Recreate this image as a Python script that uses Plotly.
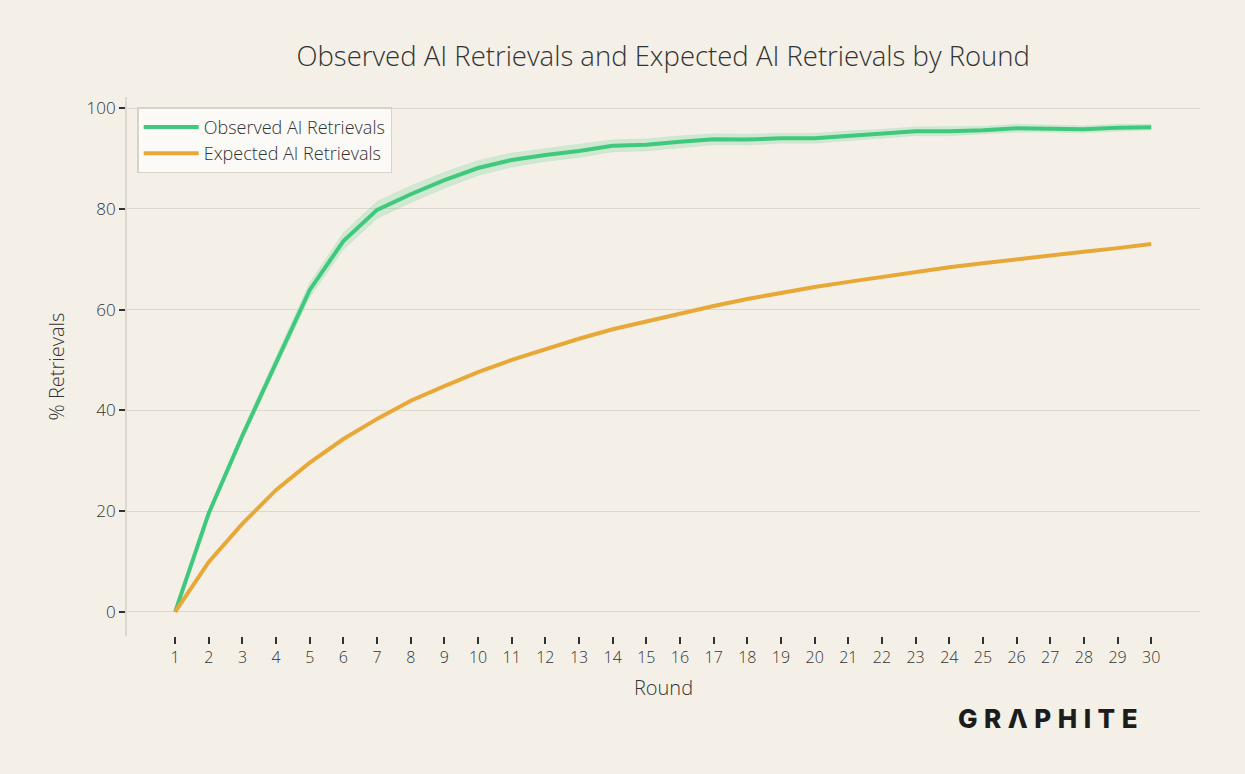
import plotly.graph_objects as go

rounds = list(range(1, 31))
observed = [0, 19.6, 35.0, 49.6, 63.9, 73.6, 79.8, 82.9, 85.7, 88.1, 89.7, 90.7, 91.5, 92.5, 92.7,
            93.3, 93.8, 93.75, 94.0, 94.0, 94.5, 94.9, 95.4, 95.4, 95.6, 96.0, 95.9, 95.8, 96.1, 96.2]
observed_err = [0, 0.7, 1.0, 1.2, 1.5, 1.7, 1.7, 1.7, 1.6, 1.5, 1.4, 1.3, 1.3, 1.2, 1.2,
                1.2, 1.1, 1.1, 1.0, 1.0, 1.0, 0.9, 0.9, 0.9, 0.8, 0.8, 0.7, 0.7, 0.7, 0.6]
expected = [0, 9.9, 17.5, 24.2, 29.6, 34.3, 38.3, 41.9, 44.8, 47.6, 50.0, 52.2, 54.2, 56.1, 57.7,
            59.3, 60.7, 62.1, 63.3, 64.5, 65.5, 66.5, 67.5, 68.4, 69.2, 70.0, 70.8, 71.5, 72.2, 73.0]
y_ticks = [0, 20, 40, 60, 80, 100]

GREEN = "#40c97c"
ORANGE = "#e8a838"
BG = "#f4f0e8"
TXT = "#333333"
FONT = "Open Sans"

upper = [o + e for o, e in zip(observed, observed_err)]
lower = [o - e for o, e in zip(observed, observed_err)]

fig = go.Figure()
fig.add_trace(go.Scatter(x=rounds, y=upper, mode="lines", line=dict(width=0.6, color="rgba(64,201,124,0.15)"),
                         showlegend=False, hoverinfo="skip"))
fig.add_trace(go.Scatter(x=rounds, y=lower, mode="lines", line=dict(width=0.6, color="rgba(64,201,124,0.15)"),
                         fill="tonexty", fillcolor="rgba(64,201,124,0.2)", showlegend=False, hoverinfo="skip"))
fig.add_trace(go.Scatter(x=rounds, y=observed, mode="lines", name="Observed AI Retrievals",
                         line=dict(color=GREEN, width=4)))
fig.add_trace(go.Scatter(x=rounds, y=expected, mode="lines", name="Expected AI Retrievals",
                         line=dict(color=ORANGE, width=4)))

fig.update_layout(
    width=1245, height=774,
    paper_bgcolor=BG, plot_bgcolor=BG,
    margin=dict(l=127, r=45, t=97, b=138),
    font=dict(family=FONT, color=TXT),
    title=dict(text="Observed AI Retrievals and Expected AI Retrievals by Round",
               x=0.5327, xanchor="center", y=0.927, yanchor="middle",
               font=dict(family=FONT, size=27.5, weight=300, color=TXT)),
    legend=dict(x=0.0095, y=0.981, xanchor="left", yanchor="top", traceorder="normal",
                bgcolor="rgba(252,251,249,0.85)", bordercolor="#d6d3cd", borderwidth=1.5,
                font=dict(family=FONT, size=18, weight=300, color=TXT),
                itemwidth=55, tracegroupgap=4),
    showlegend=True,
)
fig.update_xaxes(
    range=[-0.43, 31.45], tickmode="array", tickvals=rounds, ticktext=[str(r) for r in rounds],
    showgrid=False, zeroline=False, showline=False,
    ticks="outside", ticklen=7, tickwidth=2, tickcolor=TXT,
    tickfont=dict(family=FONT, size=16, weight=300, color=TXT),
    title=dict(text="Round", font=dict(family=FONT, size=20, weight=300, color=TXT), standoff=13),
)
fig.update_yaxes(
    range=[-4.8, 102.2], tickmode="array", tickvals=y_ticks, ticktext=[str(v) for v in y_ticks],
    showgrid=True, gridcolor="#dcd8d0", gridwidth=1.2, zeroline=False,
    showline=True, linecolor="#dcd8d0", linewidth=2,
    ticks="outside", ticklen=6, tickwidth=2, tickcolor=TXT,
    tickfont=dict(family=FONT, size=17, weight=300, color=TXT),
    title=dict(text="% Retrievals", font=dict(family=FONT, size=20, weight=300, color=TXT), standoff=16),
)
fig.add_annotation(text="G\u2005R\u2005\u039b\u2005P\u2005H\u2005I\u2005T\u2005E", xref="paper", yref="paper",
                   x=(1140 - 127) / 1073, xanchor="right", y=-(718 - 636) / 539, yanchor="middle",
                   showarrow=False, font=dict(family="Inter", size=26, weight=800, color="#1c1c1c"))

fig.write_html("out.html")
